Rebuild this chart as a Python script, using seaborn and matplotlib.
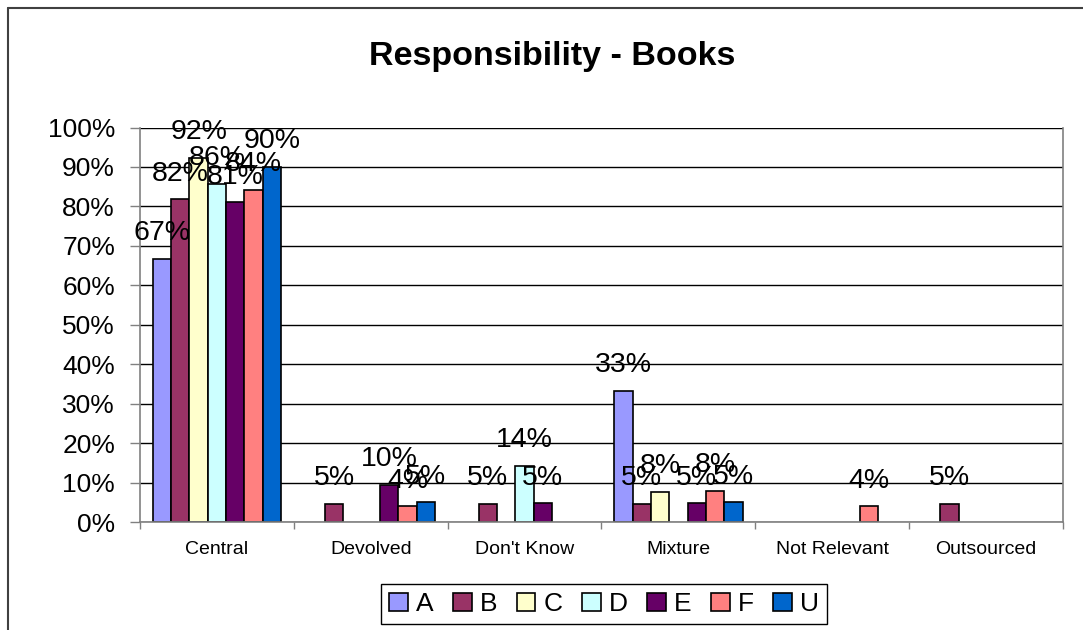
import matplotlib
matplotlib.use("Agg")
import matplotlib.pyplot as plt
from matplotlib.lines import Line2D
from matplotlib.ticker import FuncFormatter, FixedLocator
import seaborn as sns
import pandas as pd

categories = ["Central", "Devolved", "Don't Know", "Mixture", "Not Relevant", "Outsourced"]
series = ["A", "B", "C", "D", "E", "F", "U"]
colors = ["#9999FF", "#993366", "#FFFFCC", "#CCFFFF", "#660066", "#FF8080", "#0066CC"]

# values in percent (None = no bar)
values = {
    "A": [66.7, None, None, 33.3, None, None],
    "B": [81.8, 4.6, 4.6, 4.6, None, 4.6],
    "C": [92.3, None, None, 7.7, None, None],
    "D": [85.7, None, 14.3, None, None, None],
    "E": [81.0, 9.5, 4.8, 4.8, None, None],
    "F": [84.2, 4.0, None, 7.9, 4.0, None],
    "U": [90.0, 5.0, None, 5.0, None, None],
}

rows = []
for s in series:
    for c, v in zip(categories, values[s]):
        if v is not None:
            rows.append({"category": c, "series": s, "value": v})
df = pd.DataFrame(rows)

sns.set_style("white")
plt.rcParams["font.family"] = ["Liberation Sans", "DejaVu Sans"]
plt.rcParams["text.color"] = "black"
plt.rcParams["xtick.labelcolor"] = "black"
plt.rcParams["ytick.labelcolor"] = "black"

fig = plt.figure(figsize=(10.83, 6.3), dpi=100)
ax = fig.add_axes([140 / 1083, 1 - 522 / 630, (1063 - 140) / 1083, (522 - 127.5) / 630])

sns.barplot(data=df, x="category", y="value", hue="series", order=categories,
            hue_order=series, palette=colors, width=0.835, edgecolor="black",
            linewidth=1.2, ax=ax, legend=True, saturation=1)

for cont in ax.containers:
    labels = [f"{int(v + 0.5)}%" for v in cont.datavalues]
    ax.bar_label(cont, labels=labels, padding=9, fontsize=20.5, color="black")

ax.set_ylim(0, 100)
ax.set_xlim(-0.5, len(categories) - 0.5)
ax.yaxis.set_major_locator(FixedLocator(range(0, 101, 10)))
ax.yaxis.set_major_formatter(FuncFormatter(lambda x, p: f"{x:.0f}%"))
ax.grid(axis="y", color="black", linewidth=1.0)
ax.set_axisbelow(True)
ax.set_xlabel("")
ax.set_ylabel("")

ax.tick_params(axis="y", labelsize=19, length=7, width=1, color="#808080", labelcolor="black",
               direction="out", left=True, pad=11)
ax.tick_params(axis="x", which="major", labelsize=14, length=0, pad=14, labelcolor="black")
ax.set_xticks([i - 0.5 for i in range(len(categories) + 1)], minor=True)
ax.tick_params(axis="x", which="minor", length=5, width=1, color="#808080", direction="out", bottom=True)

for side in ["left", "bottom", "right"]:
    ax.spines[side].set_color("#808080")
    ax.spines[side].set_linewidth(1.2)
ax.spines["top"].set_visible(False)

leg = ax.get_legend()
handles = leg.legend_handles
leg.remove()
fig.legend(handles, series, loc="center", bbox_to_anchor=(604 / 1083, 1 - 604 / 630), ncol=7,
           fontsize=19, frameon=True, fancybox=False, edgecolor="black", labelcolor="black",
           handlelength=0.7, handleheight=0.7, handletextpad=0.3, columnspacing=0.75,
           borderpad=0.3, framealpha=1)
fig.legends[0].get_frame().set_linewidth(1.0)

fig.text(552 / 1083, 1 - 56 / 630, "Responsibility - Books", ha="center", va="center",
         fontsize=24.5, fontweight="bold", color="black")

fig.add_artist(Line2D([8 / 1083, 1], [1 - 8 / 630, 1 - 8 / 630], color="#404040", linewidth=1.5))
fig.add_artist(Line2D([8 / 1083, 8 / 1083], [0, 1 - 8 / 630], color="#404040", linewidth=1.5))

fig.savefig("out.png", dpi=100, facecolor="white")
